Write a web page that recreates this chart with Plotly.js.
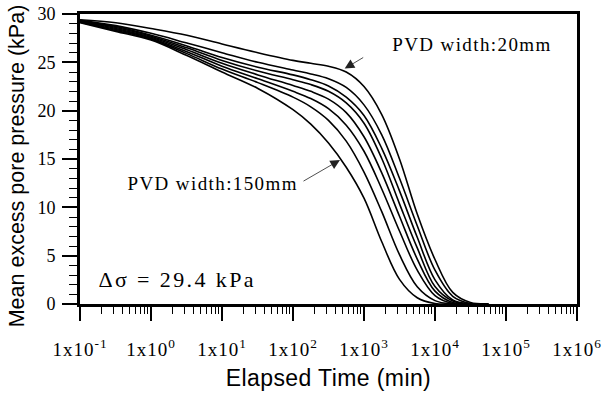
<!DOCTYPE html>
<html>
<head>
<meta charset="utf-8">
<script src="https://cdn.plot.ly/plotly-3.0.1.min.js"></script>
<style>
  html,body{margin:0;padding:0;background:#fff;}
  #chart{width:604px;height:399px;}
</style>
</head>
<body>
<div id="chart"></div>
<script>
// ---- Data ----
// Elapsed time (min) at which every curve was read
const times = [0.1, 0.32, 1, 3.2, 10, 32, 100, 178, 316, 562, 1000, 1778, 3162, 5623, 10000, 17783, 31623, 56234];

// Mean excess pore pressure (kPa); curve 1 = PVD width 20 mm ... curve 8 = PVD width 150 mm
const u1 = [29.4, 29.1, 28.5, 27.8, 26.9, 26.0, 25.2, 24.9, 24.6, 24.0, 22.5, 19.6, 15.0, 9.3, 4.6, 1.2, 0.15, 0];
const u2 = [29.35, 28.8, 28.0, 27.0, 26.0, 25.0, 24.2, 23.8, 23.3, 22.4, 20.6, 17.5, 13.0, 8.1, 3.5, 0.8, 0.05, 0];
const u3 = [29.3, 28.7, 27.8, 26.7, 25.5, 24.5, 23.7, 23.2, 22.55, 21.4, 19.5, 16.1, 11.7, 6.9, 2.5, 0.42, 0, 0];
const u4 = [29.3, 28.6, 27.7, 26.5, 25.2, 24.1, 23.2, 22.7, 22.0, 20.8, 18.7, 15.05, 10.36, 5.8, 1.8, 0.3, 0, 0];
const u5 = [29.25, 28.5, 27.6, 26.3, 24.9, 23.7, 22.6, 22.0, 21.2, 19.8, 17.3, 13.56, 9.08, 4.65, 1.33, 0.15, 0, 0];
const u6 = [29.2, 28.4, 27.5, 26.1, 24.6, 23.3, 22.0, 21.25, 20.2, 18.5, 15.8, 11.9, 7.55, 3.5, 0.87, 0.05, 0, 0];
const u7 = [29.15, 28.3, 27.4, 25.9, 24.3, 22.9, 21.4, 20.4, 19.0, 16.85, 13.65, 9.55, 5.1, 1.78, 0.35, 0, 0, 0];
const u8 = [29.1, 28.2, 27.3, 25.7, 24.0, 22.3, 20.1, 18.6, 16.65, 14.15, 10.95, 6.44, 2.55, 0.65, 0.05, 0, 0, 0];

const xTickVals = [0.1, 1, 10, 100, 1000, 10000, 100000, 1000000];
const xTickText = ['1x10<sup>-1</sup>','1x10<sup>0</sup>','1x10<sup>1</sup>','1x10<sup>2</sup>',
                   '1x10<sup>3</sup>','1x10<sup>4</sup>','1x10<sup>5</sup>','1x10<sup>6</sup>'];
const yTickVals = [0, 5, 10, 15, 20, 25, 30];

// ---- Build traces ----
const series = [u1, u2, u3, u4, u5, u6, u7, u8];
const traces = series.map((u, i) => ({
  x: times, y: u, type: 'scatter', mode: 'lines', name: 'curve ' + (i + 1),
  line: {color: '#000', width: 1.6, shape: 'spline', smoothing: 1},
  showlegend: false, hoverinfo: 'skip'
}));

// minor tick positions on the log axis (2..9 in each decade)
const minorX = [];
for (let e = -1; e < 6; e++) for (let d = 2; d <= 9; d++) minorX.push(d * Math.pow(10, e));

const serif = 'Liberation Serif, Times New Roman, serif';
const sans = 'Liberation Sans, Arial, sans-serif';

const layout = {
  width: 604, height: 399,
  margin: {l: 80, r: 27, t: 14, b: 95},
  paper_bgcolor: '#fff', plot_bgcolor: '#fff',
  showlegend: false,
  xaxis: {
    type: 'log', range: [-1, 6], showgrid: false, zeroline: false,
    showline: true, linecolor: '#000', linewidth: 3, mirror: true,
    tickmode: 'array', tickvals: xTickVals, ticktext: xTickText,
    ticks: 'outside', ticklen: 14, tickwidth: 2, tickcolor: '#000',
    ticklabelstandoff: 12,
    tickfont: {family: serif, size: 19, color: '#000'},
    minor: {tickmode: 'array', tickvals: minorX, ticks: 'outside', ticklen: 7, tickwidth: 1, tickcolor: '#000', showgrid: false},
    title: {text: 'Elapsed Time (min)', font: {family: sans, size: 23, color: '#000'}, standoff: 12}
  },
  yaxis: {
    range: [0, 30], showgrid: false, zeroline: false,
    showline: true, linecolor: '#000', linewidth: 3, mirror: true,
    tickmode: 'array', tickvals: yTickVals,
    ticks: 'outside', ticklen: 15, tickwidth: 2, tickcolor: '#000',
    ticklabelstandoff: 3,
    tickfont: {family: serif, size: 18, color: '#000'},
    minor: {dtick: 1, ticks: 'outside', ticklen: 8, tickwidth: 1, tickcolor: '#000', showgrid: false},
    title: {text: 'Mean excess pore pressure (kPa)', font: {family: sans, size: 21.5, color: '#000'}, standoff: 7}
  },
  annotations: [
    {x: 4.52, y: 26.8, xref: 'x', yref: 'y', text: 'PVD width:20mm', showarrow: false,
     xanchor: 'center', yanchor: 'middle', font: {family: serif, size: 19, color: '#000'}},
    {x: 0.873, y: 12.5, xref: 'x', yref: 'y', text: 'PVD width:150mm', showarrow: false,
     xanchor: 'center', yanchor: 'middle', font: {family: serif, size: 19, color: '#000'}},
    {x: 0.38, y: 2.5, xref: 'x', yref: 'y', text: '\u0394\u03c3 = 29.4 kPa', showarrow: false,
     xanchor: 'center', yanchor: 'middle', font: {family: serif, size: 22, color: '#000'}},
    {x: 2.662, y: 14.9, xref: 'x', yref: 'y', text: '', showarrow: true, arrowhead: 2,
     arrowsize: 2.4, arrowwidth: 0.8, arrowcolor: '#222', ax: -38, ay: 22},
    {x: 2.728, y: 24.35, xref: 'x', yref: 'y', text: '', showarrow: true, arrowhead: 2,
     arrowsize: 2.4, arrowwidth: 0.8, arrowcolor: '#222', ax: 20, ay: -12}
  ]
};

Plotly.newPlot('chart', traces, layout, {displayModeBar: false, staticPlot: true}).then(gd => {
  const sp = {0: '1.4px', 1: '1.4px', 2: '2.4px'};
  Object.keys(sp).forEach(k => {
    gd.querySelectorAll('g.annotation[data-index="' + k + '"] text').forEach(el => {
      el.style.letterSpacing = sp[k];
    });
  });
  gd.querySelectorAll('text.xtitle').forEach(el => { el.style.letterSpacing = '0.4px'; });
  gd.querySelectorAll('g.xtick text').forEach(el => { el.style.letterSpacing = '1px'; });
  // the reference's y title sits slightly below the plot's centre
  gd.querySelectorAll('text.ytitle').forEach(el => {
    const x = parseFloat(el.getAttribute('x'));
    const y = parseFloat(el.getAttribute('y')) + 7;
    el.setAttribute('y', y);
    el.setAttribute('transform', 'rotate(-90,' + x + ',' + y + ')');
  });
});
</script>
</body>
</html>
